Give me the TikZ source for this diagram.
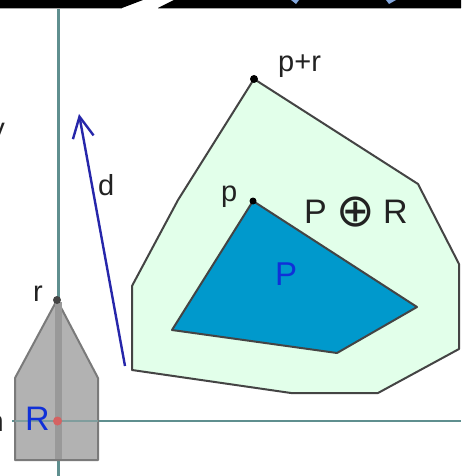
\documentclass[tikz,border=0pt]{standalone}
\usepackage{fontspec}
\setmainfont{Liberation Sans}
\newfontfamily\symfont{DejaVu Sans}
\usetikzlibrary{arrows.meta}
\definecolor{axiscol}{HTML}{5F8F8F}
\definecolor{mintfill}{HTML}{E2FFEA}
\definecolor{edgecol}{HTML}{444444}
\definecolor{blobblue}{HTML}{0099CC}
\definecolor{robotgray}{HTML}{B2B2B2}
\definecolor{stripgray}{HTML}{999999}
\definecolor{dirblue}{HTML}{2626AA}
\definecolor{labelblue}{HTML}{1030D8}
\definecolor{txtcol}{HTML}{222222}
\tikzset{
  poly/.style={draw=edgecol,line width=2pt,line join=round},
  axisline/.style={draw=axiscol,line width=2.2pt},
  vertexdot/.style={circle,fill=black,inner sep=0pt,minimum size=8pt},
  lbl/.style={inner sep=0pt,text=txtcol,font=\fontsize{#1}{#1}\selectfont},
  bluelbl/.style={inner sep=0pt,text=labelblue,font=\fontsize{#1}{#1}\selectfont}
}
\begin{document}
\begin{tikzpicture}[x=1pt,y=-1pt]
\useasboundingbox (0,0) rectangle (461,476);
\clip (0,0) rectangle (461,476);
\fill[white] (0,0) rectangle (461,476);
% top strip
\fill[black] (0,0) -- (143,0) -- (122,8) -- (0,8) -- cycle;
\fill[black] (174,0) -- (461,0) -- (461,8) -- (158,8) -- cycle;
\draw[gray!70,line width=1pt] (0,8.7) -- (122,8.7) (158,8.7) -- (461,8.7);
\fill[cyan!50!blue!50] (291,0) -- (299,0) -- (296,4) -- cycle;
\fill[cyan!50!blue!50] (386,0) -- (396,0) -- (389,4) -- cycle;
% axes
\draw[axisline] (58.5,9) -- (58.5,476);
\draw[axisline] (12,421) -- (461,421);
% obstacle sum
\draw[poly,fill=mintfill] (254,79) -- (418,184) -- (459,264) -- (459,349) -- (378,393) -- (291,393) -- (132,370) -- (132,286) -- (178,200) -- cycle;
\draw[poly,fill=blobblue] (253,201) -- (417,307) -- (337,353) -- (172,330) -- cycle;
% robot
\draw[poly,draw=stripgray!80!black,fill=robotgray] (57,300) -- (98,378) -- (98,460) -- (15,460) -- (15,378) -- cycle;
\fill[stripgray] (55,302) rectangle (62,459);
\draw[axiscol!60!robotgray,line width=1.5pt] (15,421) -- (98,421);
\fill[red!45!robotgray] (57.5,421) circle (4.5pt);
% direction arrow
\coordinate (dstart) at (125,366);
\coordinate (dtip) at (79,114);
\draw[dirblue,line width=2.4pt,-{Straight Barb[length=21pt,width=21pt,line width=2.4pt]}] (dstart) -- (dtip);
% vertices
\node[vertexdot] (vsum) at (254,79) {};
\node[vertexdot,minimum size=7pt] (vp) at (253,201) {};
\node[vertexdot,fill=edgecol] (vr) at (57,300) {};
% labels
\node[lbl=29,anchor=base west] (tpr) at (278,72) {p+r};
\node[lbl=29,anchor=base west] (tp) at (221,201) {p};
\node[lbl=29,anchor=base west] (tr) at (33,301) {r};
\node[lbl=29,anchor=base west] (td) at (98,195) {d};
\node[lbl=34,anchor=base west] (tsP) at (304,223) {P};
\node[lbl=46,anchor=center,font=\symfont\fontsize{46}{46}\selectfont] (tsO) at (355.5,212) {⊕};
\node[lbl=34,anchor=base west] (tsR) at (383,223) {R};
\node[bluelbl=33,anchor=base west] (tP) at (275,285) {P};
\node[bluelbl=34,anchor=base west] (tR) at (25,430) {R};
\node[lbl=29,anchor=base east] (tn) at (4,431) {n};
\node[lbl=29,anchor=base east] (tv) at (5,139) {y};
\end{tikzpicture}
\end{document}
